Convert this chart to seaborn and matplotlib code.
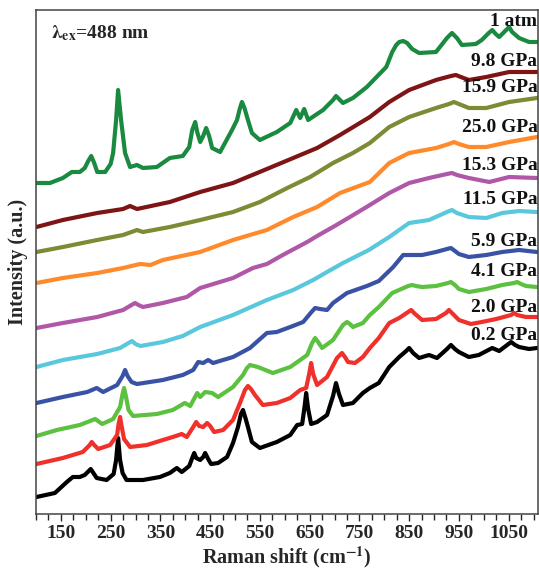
import matplotlib
matplotlib.use("Agg")
import matplotlib.pyplot as plt
import seaborn as sns
import pandas as pd
from matplotlib.ticker import MultipleLocator, FixedLocator

# Raman spectra of the sample under pressure (stacked, arbitrary intensity units)
wn_02 = [101, 138, 162, 174, 188, 198, 210, 222, 242, 256, 261, 265, 269, 274, 282, 315, 349, 369, 383, 393,
         408, 414, 418, 422, 430, 436, 440, 446, 452, 466, 484, 496, 506, 512, 516, 521, 526, 534, 550, 584,
         611, 625, 635, 640, 643, 647, 653, 665, 685, 697, 703, 709, 717, 737, 757, 771, 789, 810, 830, 844,
         850, 858, 870, 890, 906, 926, 934, 942, 950, 970, 990, 1017, 1031, 1047, 1055, 1063, 1071, 1091, 1107]
int_02 = [17, 21, 32, 37, 37, 39, 45, 36, 34, 40, 54, 76, 54, 41, 34, 34, 37, 41, 46, 42,
          48, 56, 61, 56, 54, 57, 61, 55, 50, 51, 57, 71, 87, 100, 104, 96, 87, 72, 66, 72,
          79, 89, 90, 108, 121, 105, 90, 92, 99, 118, 131, 120, 109, 111, 121, 126, 131, 147, 157, 163,
          166, 161, 156, 159, 156, 165, 169, 165, 162, 157, 159, 166, 163, 169, 172, 169, 167, 165, 166]

wn_20 = [101, 154, 194, 208, 212, 217, 225, 249, 263, 266, 269, 272, 277, 289, 323, 355, 375, 393, 403, 416,
         422, 428, 436, 444, 450, 458, 476, 496, 510, 520, 526, 532, 540, 556, 584, 611, 631, 643, 649, 653,
         657, 665, 685, 705, 715, 721, 727, 741, 757, 771, 789, 810, 830, 848, 854, 862, 876, 904, 924, 930,
         936, 950, 974, 996, 1025, 1055, 1061, 1067, 1085, 1107]
int_20 = [50, 56, 62, 69, 72, 69, 65, 69, 79, 90, 97, 88, 75, 67, 69, 74, 77, 80, 77, 87,
          92, 88, 87, 91, 88, 82, 84, 94, 111, 124, 128, 125, 119, 109, 111, 116, 124, 126, 140, 151,
          140, 129, 137, 156, 161, 157, 152, 151, 157, 166, 176, 191, 196, 202, 204, 200, 194, 195, 201, 204,
          201, 194, 190, 192, 195, 199, 201, 199, 197, 197]

wn_41 = [101, 142, 188, 219, 233, 255, 269, 274, 277, 281, 286, 295, 343, 375, 399, 410, 424, 430, 440, 454,
         466, 496, 516, 524, 530, 538, 546, 576, 611, 631, 645, 655, 661, 667, 675, 697, 717, 725, 731, 737,
         757, 771, 789, 816, 848, 856, 864, 876, 904, 928, 934, 942, 950, 970, 1005, 1037, 1061, 1067, 1075,
         1085, 1107]
int_41 = [78, 84, 89, 95, 90, 95, 107, 120, 126, 117, 104, 98, 100, 104, 111, 108, 121, 117, 122, 121,
          117, 127, 139, 146, 149, 148, 147, 141, 147, 154, 159, 171, 176, 172, 166, 174, 189, 192, 190, 187,
          191, 199, 207, 221, 228, 229, 228, 227, 228, 231, 232, 229, 225, 222, 225, 229, 231, 232, 230,
          228, 227]

wn_59 = [101, 154, 203, 222, 235, 263, 274, 279, 284, 292, 303, 355, 395, 416, 426, 436, 446, 456, 496, 530,
         564, 584, 611, 637, 652, 661, 671, 685, 697, 725, 765, 789, 818, 838, 876, 904, 926, 934, 942, 950,
         970, 1005, 1037, 1071, 1107]
int_59 = [111, 117, 122, 126, 122, 129, 138, 144, 138, 132, 130, 134, 139, 144, 152, 151, 154, 151, 157, 166,
          181, 182, 187, 192, 201, 206, 205, 204, 211, 221, 228, 233, 247, 259, 259, 262, 265, 266, 263, 260,
          257, 259, 262, 264, 262]

wn_115 = [101, 154, 223, 269, 286, 293, 300, 310, 355, 395, 430, 496, 564, 617, 657, 685, 717, 769, 810, 850,
          890, 926, 936, 946, 970, 1005, 1037, 1071, 1107]
int_115 = [147, 154, 160, 166, 171, 173, 170, 168, 172, 178, 187, 199, 214, 224, 234, 242, 251, 264, 277, 291,
           294, 302, 304, 301, 297, 296, 301, 303, 302]

wn_153 = [101, 154, 223, 275, 292, 299, 306, 315, 355, 403, 430, 496, 536, 564, 596, 645, 665, 697, 731, 771,
          810, 850, 890, 926, 936, 946, 970, 1011, 1051, 1107]
int_153 = [186, 191, 197, 204, 209, 211, 209, 207, 211, 217, 226, 236, 246, 250, 259, 272, 278, 287, 297, 309,
           321, 331, 336, 340, 341, 339, 336, 332, 337, 336]

wn_250 = [101, 154, 223, 275, 309, 330, 355, 430, 496, 564, 617, 665, 711, 771, 810, 850, 904, 930, 940, 950,
          970, 1005, 1051, 1107]
int_250 = [231, 236, 241, 246, 250, 249, 254, 262, 274, 284, 297, 307, 321, 332, 351, 361, 366, 370, 372, 370,
           367, 367, 372, 377]

wn_159 = [101, 154, 223, 275, 303, 315, 369, 430, 496, 550, 605, 651, 697, 737, 771, 810, 850, 904, 930, 940,
          950, 970, 1005, 1051, 1107]
int_159 = [262, 267, 274, 279, 284, 282, 287, 294, 302, 312, 326, 337, 351, 361, 371, 387, 397, 406, 410, 412,
           410, 406, 406, 412, 416]

wn_98 = [101, 154, 223, 275, 289, 303, 369, 430, 496, 564, 617, 665, 711, 771, 810, 850, 904, 934, 944, 954,
         970, 1005, 1051, 1107]
int_98 = [287, 294, 301, 305, 308, 305, 312, 322, 331, 345, 356, 366, 379, 397, 412, 424, 434, 438, 439, 437,
          434, 437, 442, 442]

wn_atm = [101, 128, 154, 172, 188, 198, 205, 211, 217, 223, 239, 250, 255, 261, 265, 271, 279, 289, 303, 315,
          343, 369, 395, 408, 414, 420, 424, 430, 436, 442, 448, 454, 470, 494, 504, 510, 514, 519, 526, 534,
          550, 584, 611, 623, 631, 639, 647, 677, 697, 703, 709, 717, 737, 765, 804, 816, 824, 830, 838, 846,
          856, 870, 904, 926, 936, 946, 956, 984, 996, 1010, 1017, 1024, 1031, 1045, 1051, 1057, 1071, 1091, 1107]
int_atm = [331, 331, 336, 342, 342, 346, 353, 358, 351, 342, 342, 350, 361, 394, 424, 394, 361, 347, 349, 346,
           347, 356, 358, 367, 384, 392, 382, 372, 378, 386, 378, 366, 362, 384, 394, 406, 412, 406, 394, 381,
           374, 382, 391, 404, 396, 405, 394, 404, 414, 418, 415, 411, 416, 427, 447, 462, 469, 472, 473, 471,
           465, 461, 462, 476, 481, 476, 469, 470, 474, 481, 484, 480, 477, 484, 487, 482, 476, 472, 472]

labels = ["0.2 GPa", "2.0 GPa", "4.1 GPa", "5.9 GPa", "11.5 GPa",
          "15.3 GPa", "25.0 GPa", "15.9 GPa", "9.8 GPa", "1 atm"]
wavenumbers = [wn_02, wn_20, wn_41, wn_59, wn_115, wn_153, wn_250, wn_159, wn_98, wn_atm]
intensities = [int_02, int_20, int_41, int_59, int_115, int_153, int_250, int_159, int_98, int_atm]
colors = ["#000000", "#f0302a", "#5cc040", "#3a52a6", "#5ac8dc",
          "#b058a8", "#ff8a2c", "#7e8a34", "#7e1414", "#1a8a40"]
# vertical position of each pressure label (same units as intensity)
label_y = [179, 207, 242, 273, 315, 349, 386, 426, 452, 493]

frames = []
for lab, w, i in zip(labels, wavenumbers, intensities):
    frames.append(pd.DataFrame({"wn": w, "intensity": i, "pressure": lab}))
df = pd.concat(frames, ignore_index=True)

sns.set_style("white")
plt.rcParams["font.family"] = ["Liberation Serif", "DejaVu Serif"]
plt.rcParams["mathtext.fontset"] = "stix"
plt.rcParams["lines.solid_joinstyle"] = "round"
plt.rcParams["lines.solid_capstyle"] = "round"

fig = plt.figure(figsize=(5.39, 5.69), dpi=100)
ax = fig.add_axes([36 / 539, 55 / 569, 502 / 539, 504 / 569])

sns.lineplot(data=df, x="wn", y="intensity", hue="pressure", hue_order=labels,
             palette=colors, estimator=None, sort=False, legend=False,
             linewidth=3.0, ax=ax)

ax.set_xlim(100, 1109)
ax.set_ylim(0, 504)
ax.set_yticks([])
ax.xaxis.set_major_locator(FixedLocator(list(range(150, 1100, 100))))
ax.xaxis.set_minor_locator(MultipleLocator(25))
ax.tick_params(axis="x", which="major", direction="out", length=5, width=1,
               labelsize=14, pad=3, bottom=True)
ax.tick_params(axis="x", which="minor", direction="out", length=4, width=1, bottom=True)
for t in ax.get_xticklabels():
    t.set_fontweight("bold")

for sp in ax.spines.values():
    sp.set_visible(True)
    sp.set_color("#444444")
    sp.set_linewidth(1.1)

ax.set_xlabel("Raman shift (cm$^{\\mathbf{-1}}$)", fontsize=14.5, fontweight="bold", labelpad=2)
ax.set_ylabel("Intensity (a.u.)", fontsize=14.5, fontweight="bold", labelpad=6)

for lab, y in zip(labels, label_y):
    ax.text(0.999, y, lab, transform=ax.get_yaxis_transform(), ha="right", va="center",
            fontsize=14, fontweight="bold", color="#111111")

ax.text(0.03, 0.955, "$\\mathbf{\\lambda_{ex}}$=488 nm", transform=ax.transAxes,
        ha="left", va="center", fontsize=14, fontweight="bold")

fig.savefig("out.png", dpi=100)
